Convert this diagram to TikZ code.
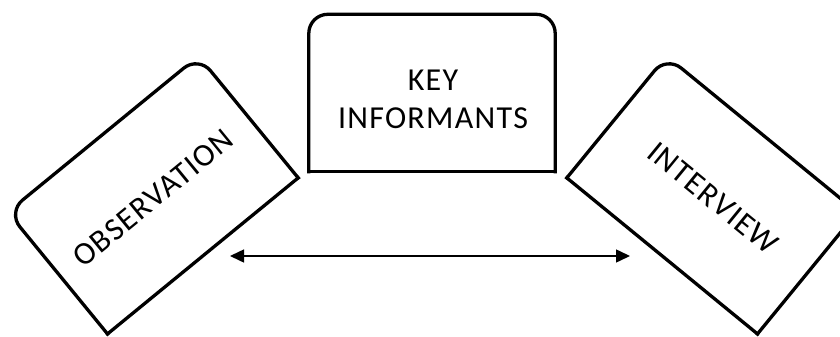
\documentclass[tikz,border=0pt]{standalone}
\usepackage{fontspec}
\setmainfont{Carlito}
\newfontfamily\cardfont[LetterSpace=4]{Carlito}
\usetikzlibrary{arrows.meta}
\tikzset{
  card/.style={rectangle, draw=none, minimum width=246pt, minimum height=157pt, inner sep=0pt},
  cardtext/.style={inner sep=0pt, font=\cardfont\fontsize{32}{38}\selectfont},
  cardline/.style={line width=3.3pt, line cap=rect, line join=miter},
  link/.style={line width=1.5pt, {Triangle[length=14pt,width=13pt]}-{Triangle[length=14pt,width=13pt]}}
}
% outline of a card: rounded top corners, square bottom corners
\newcommand{\cardoutline}[1]{%
  \draw[cardline, rounded corners=19pt] (#1.south west) -- (#1.north west) -- (#1.north east) -- (#1.south east);
  \draw[cardline] (#1.south east) -- (#1.south west);}
\begin{document}
\begin{tikzpicture}[x=1pt, y=-1pt]
  \useasboundingbox (0,0) rectangle (840,337);
  % three cards: the middle one upright, the side ones tilted outwards
  \node[card] (key) at (432,93) {};
  \node[cardtext, anchor=base] (keyA) at (433,90) {KEY};
  \node[cardtext, anchor=base] (keyB) at (433,128.5) {INFORMANTS};
  \node[card, rotate=39.3] (obs) at (153,195) {};
  \node[cardtext, rotate=39.3] (obstxt) at (153,198) {OBSERVATION};
  \node[card, rotate=-39.3] (int) at (712,195) {};
  \node[cardtext, rotate=-39.3] (inttxt) at (713,198) {INTERVIEW};
  \cardoutline{key}
  \cardoutline{obs}
  \cardoutline{int}
  % two-way arrow below the middle card
  \coordinate (aL) at (230,256);
  \coordinate (aR) at (630,256);
  \draw[link] (aL) -- (aR);
\end{tikzpicture}
\end{document}
